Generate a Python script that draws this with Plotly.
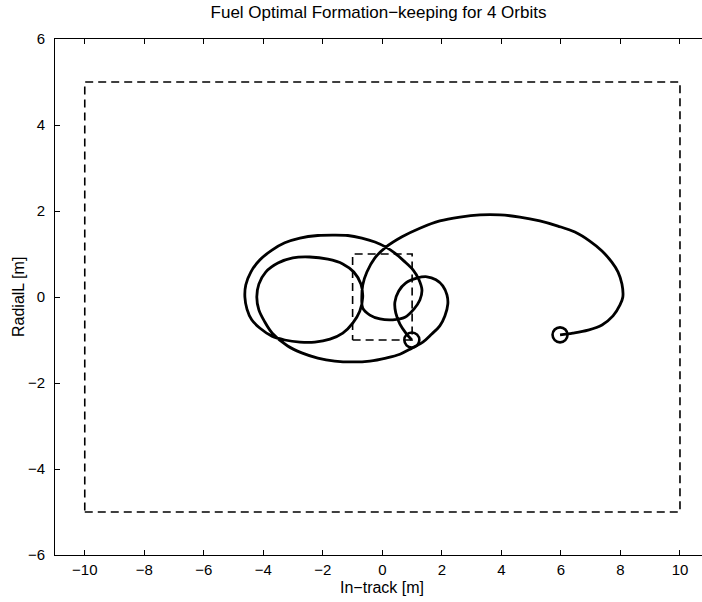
import plotly.graph_objects as go

# Trajectory (in-track x, radial y)
traj_x = [5.97, 6.40, 6.91, 7.38, 7.75, 7.98, 8.08, 8.05, 7.92, 7.71, 7.38, 6.97, 6.47, 5.90, 5.29,
          4.62, 3.95, 3.28, 2.61, 1.93, 1.26, 0.66, 0.12, -0.25, -0.52, -0.66, -0.69,
          -0.66, -0.42, -0.08, 0.35, 0.76, 1.06, 1.26, 1.33, 1.23, 1.03, 0.72, 0.42, 0.12,
          -0.25, -0.69, -1.16, -1.66, -2.17, -2.77, -3.28, -3.71, -4.12, -4.42, -4.59, -4.62,
          -4.55, -4.39, -4.12, -3.71,
          -3.28, -2.77, -2.27, -1.76, -1.33, -0.99, -0.76, -0.66, -0.72, -0.96, -1.33, -1.83,
          -2.44, -3.01, -3.51, -3.92, -4.15, -4.22, -4.15, -3.95, -3.70,
          -3.18, -2.71, -2.17, -1.60, -0.99, -0.42, 0.12, 0.59, 0.99, 1.36, 1.66, 1.93, 2.10,
          2.20, 2.17, 2.03, 1.80, 1.50, 1.16, 0.79, 0.55, 0.42, 0.45, 0.59, 0.79, 0.99]
traj_y = [-0.88, -0.84, -0.77, -0.65, -0.44, -0.19, 0.0, 0.30, 0.58, 0.81, 1.07, 1.30, 1.51, 1.65, 1.77,
          1.86, 1.91, 1.91, 1.86, 1.77, 1.60, 1.40, 1.16, 0.91, 0.58, 0.28, 0.0,
          -0.26, -0.42, -0.51, -0.53, -0.47, -0.28, -0.07, 0.16, 0.40, 0.63, 0.84, 1.02, 1.16,
          1.28, 1.37, 1.43, 1.44, 1.43, 1.37, 1.26, 1.09, 0.86, 0.58, 0.28, 0.0,
          -0.28, -0.53, -0.72, -0.91,
          -1.0, -1.05, -1.05, -0.98, -0.84, -0.60, -0.33, 0.0, 0.30, 0.58, 0.77, 0.88,
          0.93, 0.91, 0.79, 0.58, 0.30, 0.0, -0.30, -0.58, -0.84,
          -1.14, -1.30, -1.42, -1.49, -1.51, -1.49, -1.42, -1.33, -1.19, -1.05, -0.86, -0.67, -0.44,
          -0.16, 0.05, 0.26, 0.40, 0.47, 0.44, 0.33, 0.14, -0.12, -0.37, -0.63, -0.84, -1.0]

# Start / end markers
mark_x = [5.97, 0.99]
mark_y = [-0.88, -1.0]

# Formation boxes (outer and inner)
outer_x = [-10, 10, 10, -10, -10]
outer_y = [-5, -5, 5, 5, -5]
inner_x = [-1, 1, 1, -1, -1]
inner_y = [-1, -1, 1, 1, -1]

x_ticks = [-10, -8, -6, -4, -2, 0, 2, 4, 6, 8, 10]
y_ticks = [-6, -4, -2, 0, 2, 4, 6]

FONT = "Liberation Sans, Arial, Helvetica, sans-serif"

fig = go.Figure()
fig.add_trace(go.Scatter(x=outer_x, y=outer_y, mode="lines",
                         line=dict(color="black", width=1.6, dash="8px,5px"),
                         showlegend=False, hoverinfo="skip"))
fig.add_trace(go.Scatter(x=inner_x, y=inner_y, mode="lines",
                         line=dict(color="black", width=1.6, dash="8px,5px"),
                         showlegend=False, hoverinfo="skip"))
fig.add_trace(go.Scatter(x=traj_x, y=traj_y, mode="lines",
                         line=dict(color="black", width=2.8, shape="spline", smoothing=1.0),
                         showlegend=False))
fig.add_trace(go.Scatter(x=mark_x, y=mark_y, mode="markers",
                         marker=dict(symbol="circle-open", size=15, color="black",
                                     line=dict(width=2.6, color="black")),
                         showlegend=False))

fig.update_layout(
    width=702, height=602,
    margin=dict(l=55, r=0, t=39, b=47),
    paper_bgcolor="white", plot_bgcolor="white",
    font=dict(family=FONT, size=16, color="black"),
    title=dict(text="Fuel Optimal Formation\u2212keeping for 4 Orbits",
               x=0.5, xref="paper", y=1 - 12 / 602, yref="container", yanchor="middle",
               font=dict(family=FONT, size=17, color="black")),
    annotations=[
        dict(text="In\u2212track [m]", xref="x", x=0, yref="paper", y=-32 / 516,
             xanchor="center", yanchor="middle", showarrow=False,
             font=dict(family=FONT, size=16, color="black")),
        dict(text="RadialL [m]", xref="paper", x=-37 / 646.75, yref="y", y=0,
             xanchor="center", yanchor="middle", textangle=-90, showarrow=False,
             font=dict(family=FONT, size=16, color="black")),
    ],
)
fig.update_xaxes(range=[-11, 10.74], tickvals=x_ticks, showgrid=False, zeroline=False,
                 showline=True, linecolor="black", linewidth=1, mirror="ticks",
                 ticks="inside", ticklen=5, tickcolor="black", tickwidth=1,
                 ticklabelstandoff=1, tickfont=dict(family=FONT, size=15, color="black"))
fig.update_yaxes(range=[-6, 6], tickvals=y_ticks, showgrid=False, zeroline=False,
                 showline=True, linecolor="black", linewidth=1, mirror=False,
                 ticks="inside", ticklen=5, tickcolor="black", tickwidth=1,
                 ticklabelstandoff=6, tickfont=dict(family=FONT, size=15, color="black"))

fig.write_html("out.html")
